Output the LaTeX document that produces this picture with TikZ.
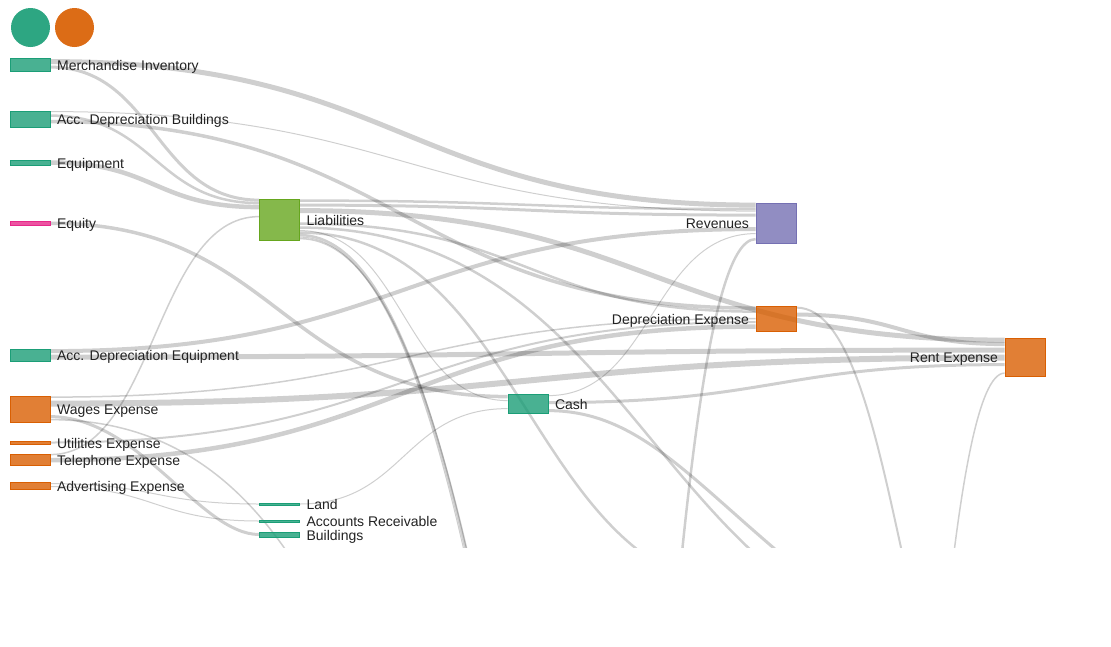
\documentclass[tikz,border=0pt]{standalone}
\usepackage{fontspec}
\setmainfont{Liberation Sans}
\usetikzlibrary{calc,backgrounds}
\definecolor{dgreen}{HTML}{1B9E77}
\definecolor{dorange}{HTML}{D95F02}
\definecolor{dpurple}{HTML}{7570B3}
\definecolor{dpink}{HTML}{E7298A}
\definecolor{dlime}{HTML}{66A61E}
\definecolor{txt}{HTML}{222222}
\tikzset{
  lk/.style={draw=black, draw opacity=0.19, line cap=butt},
  box/.style={rectangle, inner sep=0pt, minimum width=40pt, line width=0.8pt},
  lab/.style={inner sep=0pt, font=\fontsize{14}{16}\selectfont, text=txt},
  gbox/.style={box, draw=dgreen, fill=dgreen, fill opacity=0.8},
  obox/.style={box, draw=dorange, fill=dorange, fill opacity=0.8},
}
\newcommand\lnk[3]{\draw[lk, line width=#1pt] (#2) let \p1=(#2), \p2=(#3), \n1={(\x1+\x2)/2} in .. controls (\n1,\y1) and (\n1,\y2) .. (#3);}
\begin{document}
\begin{tikzpicture}[x=1pt,y=-1pt]
\useasboundingbox (0,0) rectangle (1111,646);
% legend
\node[circle, fill=dgreen, fill opacity=0.92, inner sep=0pt, minimum size=39pt] (lg1) at (30.5,27.5) {};
\node[circle, fill=dorange, fill opacity=0.92, inner sep=0pt, minimum size=39pt] (lg2) at (74.5,27.5) {};
% nodes
\node[gbox, minimum height=13pt] (mi) at (30,64.5) {};
\node[gbox, minimum height=16.5pt] (adb) at (30,119.25) {};
\node[gbox, minimum height=5pt] (equ) at (30,162.5) {};
\node[box, draw=dpink, fill=dpink, fill opacity=0.8, minimum height=4.5pt] (ety) at (30,223.25) {};
\node[gbox, minimum height=12.5pt] (ade) at (30,355.25) {};
\node[obox, minimum height=26pt] (wag) at (30,409) {};
\node[obox, minimum height=3pt] (utl) at (30,442.5) {};
\node[obox, minimum height=11pt] (tel) at (30,459.5) {};
\node[obox, minimum height=7pt] (adv) at (30,486) {};
\node[gbox, minimum height=2pt] (land) at (279.5,504) {};
\node[gbox, minimum height=2pt] (ar) at (279.5,521) {};
\node[gbox, minimum height=5pt] (bld) at (279.5,534.5) {};
\node[box, draw=dlime, fill=dlime, fill opacity=0.8, minimum height=41pt] (liab) at (279.5,219.5) {};
\node[gbox, minimum height=19pt] (cash) at (528,403.5) {};
\node[box, draw=dpurple, fill=dpurple, fill opacity=0.8, minimum height=40pt] (rev) at (776,223) {};
\node[obox, minimum height=25pt] (dep) at (776,318.5) {};
\node[obox, minimum height=38pt] (rent) at (1025,357) {};
% off-picture ends
\coordinate (offD) at (1005,654);
\coordinate (offF) at (756,591);
\coordinate (offB1) at (756,1500);
\coordinate (offB2) at (756,1530);
\coordinate (offB3) at (756,1470);
\coordinate (offE) at (1005,785);
\coordinate (offC) at (800,570);
\coordinate (offW) at (305,580);
\coordinate (offR) at (548,1575);
\coordinate (offT) at (796,2185);
% links
\begin{pgfonlayer}{background}
\begin{scope}
\clip (0,0) rectangle (1111,547);
\lnk{5}{[yshift=-4pt]mi.north east}{[yshift=-2.5pt]rev.north west}
\lnk{3}{[yshift=-9.5pt]mi.north east}{[yshift=-1.5pt]liab.north west}
\lnk{1}{[yshift=-1pt]adb.north east}{[yshift=-8.5pt]rev.north west}
\lnk{2.5}{[yshift=-5pt]adb.north east}{[yshift=-4.5pt]liab.north west}
\lnk{3.5}{[yshift=-11pt]adb.north east}{[yshift=-2.5pt]dep.north west}
\lnk{4.5}{equ.east}{[yshift=-8.5pt]liab.north west}
\lnk{3.5}{ety.east}{[yshift=-3pt]cash.north west}
\lnk{4}{[yshift=-2.5pt]ade.north east}{[yshift=-26.5pt]rev.north west}
\lnk{5}{[yshift=-8.5pt]ade.north east}{[yshift=-12.5pt]rent.north west}
\lnk{1.5}{[yshift=-1.5pt]wag.north east}{[yshift=-13pt]dep.north west}
\lnk{6}{[yshift=-8pt]wag.north east}{[yshift=-20pt]rent.north west}
\draw[lk, line width=3pt] ([yshift=-21pt]wag.north east) .. controls (140,417) and (200,534.5) .. (bld.west);
\draw[lk, line width=1.5pt] ([yshift=-24pt]wag.north east) .. controls (150,420) and (235,462) .. (offW);
\lnk{2}{utl.east}{[yshift=-16.5pt]dep.north west}
\lnk{1.5}{[yshift=-1pt]tel.north east}{[yshift=-18pt]liab.north west}
\lnk{4.5}{[yshift=-6.5pt]tel.north east}{[yshift=-21pt]dep.north west}
\lnk{1}{[yshift=-1.5pt]adv.north east}{land.west}
\lnk{1}{[yshift=-4.5pt]adv.north east}{ar.west}
\lnk{1}{land.east}{[yshift=-15pt]cash.north west}
\lnk{2.5}{[yshift=-2pt]liab.north east}{[yshift=-6.5pt]rev.north west}
\lnk{3}{[yshift=-6.5pt]liab.north east}{[yshift=-12.5pt]rev.north west}
\lnk{5}{[yshift=-12pt]liab.north east}{[yshift=-2.5pt]rent.north west}
\lnk{2.5}{[yshift=-25pt]liab.north east}{[yshift=-6pt]dep.north west}
\lnk{2.5}{[yshift=-29pt]liab.north east}{offD}
\lnk{1}{[yshift=-32pt]liab.north east}{[yshift=-7pt]cash.north west}
\lnk{2.5}{[yshift=-34pt]liab.north east}{offF}
\lnk{2.5}{[yshift=-36.5pt]liab.north east}{offB1}
\lnk{1}{[yshift=-38.5pt]liab.north east}{offB2}
\lnk{1.5}{[yshift=-40pt]liab.north east}{offB3}
\lnk{4}{[yshift=-9pt]dep.north east}{[yshift=-6.5pt]rent.north west}
\lnk{2}{[yshift=-2pt]dep.north east}{offE}
\lnk{1}{[yshift=-2pt]cash.north east}{[yshift=-31pt]rev.north west}
\lnk{3}{[yshift=-9pt]cash.north east}{[yshift=-27pt]rent.north west}
\draw[lk, line width=3pt] ([yshift=-17pt]cash.north east) .. controls (640,411) and (690,480) .. (offC);
\lnk{2.5}{offR}{[yshift=-36.5pt]rev.north west}
\lnk{1.5}{offT}{[yshift=-35.5pt]rent.north west}
\end{scope}
\end{pgfonlayer}
% labels
\node[lab, anchor=base west] (mi-t) at ([xshift=6.5pt,yshift=-5.6pt]mi.east) {Merchandise Inventory};
\node[lab, anchor=base west] (adb-t) at ([xshift=6.5pt,yshift=-5.6pt]adb.east) {Acc. Depreciation Buildings};
\node[lab, anchor=base west] (equ-t) at ([xshift=6.5pt,yshift=-5.6pt]equ.east) {Equipment};
\node[lab, anchor=base west] (ety-t) at ([xshift=6.5pt,yshift=-5.6pt]ety.east) {Equity};
\node[lab, anchor=base west] (ade-t) at ([xshift=6.5pt,yshift=-5.6pt]ade.east) {Acc. Depreciation Equipment};
\node[lab, anchor=base west] (wag-t) at ([xshift=6.5pt,yshift=-5.6pt]wag.east) {Wages Expense};
\node[lab, anchor=base west] (utl-t) at ([xshift=6.5pt,yshift=-5.6pt]utl.east) {Utilities Expense};
\node[lab, anchor=base west] (tel-t) at ([xshift=6.5pt,yshift=-5.6pt]tel.east) {Telephone Expense};
\node[lab, anchor=base west] (adv-t) at ([xshift=6.5pt,yshift=-5.6pt]adv.east) {Advertising Expense};
\node[lab, anchor=base west] (land-t) at ([xshift=6.5pt,yshift=-5.6pt]land.east) {Land};
\node[lab, anchor=base west] (ar-t) at ([xshift=6.5pt,yshift=-5.6pt]ar.east) {Accounts Receivable};
\node[lab, anchor=base west] (bld-t) at ([xshift=6.5pt,yshift=-5.6pt]bld.east) {Buildings};
\node[lab, anchor=base west] (liab-t) at ([xshift=6.5pt,yshift=-5.6pt]liab.east) {Liabilities};
\node[lab, anchor=base west] (cash-t) at ([xshift=6.5pt,yshift=-5.6pt]cash.east) {Cash};
\node[lab, anchor=base east] (rev-t) at ([xshift=-6.5pt,yshift=-5.6pt]rev.west) {Revenues};
\node[lab, anchor=base east] (dep-t) at ([xshift=-6.5pt,yshift=-5.6pt]dep.west) {Depreciation Expense};
\node[lab, anchor=base east] (rent-t) at ([xshift=-6.5pt,yshift=-5.6pt]rent.west) {Rent Expense};
\end{tikzpicture}
\end{document}
